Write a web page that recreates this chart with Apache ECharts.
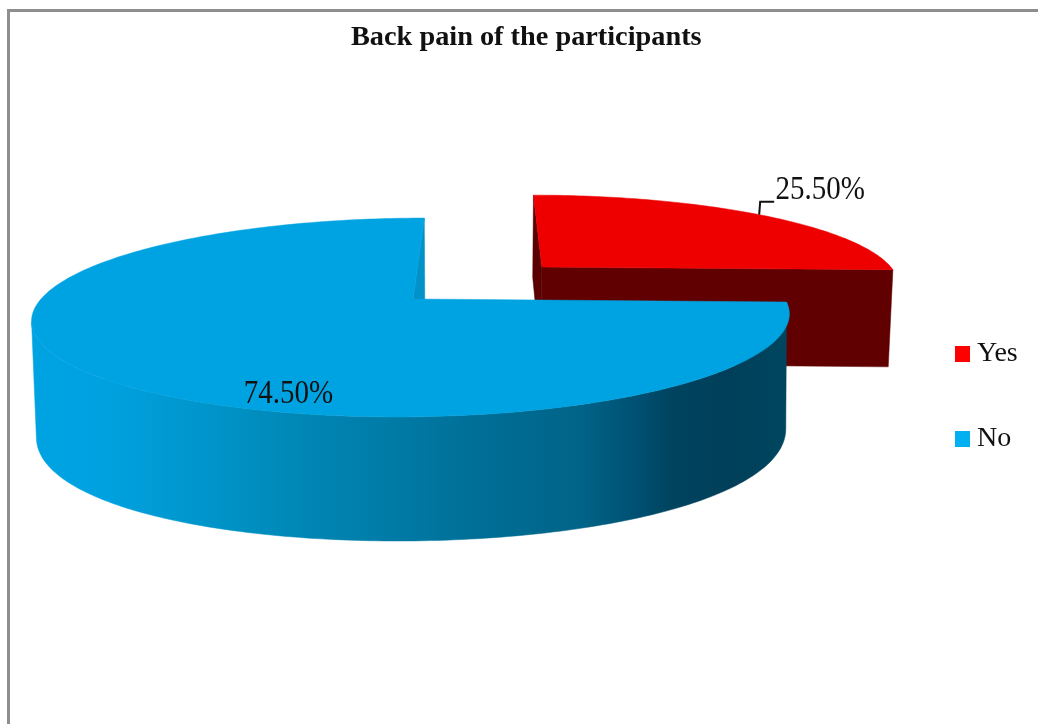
<!DOCTYPE html>
<html>
<head>
<meta charset="utf-8">
<style>html,body{margin:0;padding:0;background:#fff}#chart{width:1038px;height:724px}</style>
<script src="https://cdn.jsdelivr.net/npm/echarts@6/dist/echarts.min.js"></script>
</head>
<body>
<div id="chart"></div>
<script>
const titleText = 'Back pain of the participants';
const categories = ['Yes', 'No'];
const values = [25.5, 74.5];
const topColors = ['#EE0000', '#00A3E2'];
const legendColors = ['#FF0000', '#00B0F0'];

const FONT = '"Liberation Serif", "Times New Roman", serif';
const total = values.reduce((a, b) => a + b, 0);
const RAD = Math.PI / 180;
const view = { xv: 485, yh: -217, H: 516, W: 372, k: 0.186, xc: 470, taper: 0.011 };
const centerYes = { u: 0.163, v: 0.355, depth: 103, bulge: 0 };
const centerNo = { u: -0.1935, v: 0, depth: 101, bulge: 0.11 };

function project(u, v, drop) {
  const w = 1 + view.k * v;
  let x = view.xv + view.W * u / w;
  let y = view.yh + view.H / w;
  if (drop) { x += (view.xc - x) * view.taper; y += drop / w; }
  return [x, y];
}
function apexPoint(c, low) { return project(c.u, c.v, low ? c.depth : 0); }
function rimPoint(c, deg, low) {
  const s = Math.sin(deg * RAD);
  return project(c.u + s, c.v + Math.cos(deg * RAD), low ? c.depth * (1 + c.bulge * s * s) : 0);
}
function rim(c, a0, a1, low) {
  const pts = [], n = Math.max(2, Math.round(Math.abs(a1 - a0)));
  for (let i = 0; i <= n; i++) pts.push(rimPoint(c, a0 + (a1 - a0) * i / n, low));
  return pts;
}
function poly(points, fill) {
  return { type: 'polygon', shape: { points }, style: { fill, stroke: fill, lineWidth: 0.5 } };
}
function pctText(i) { return values[i].toFixed(2) + '%'; }
function labelEl(text, x, y) {
  return { type: 'text', x, y, scaleY: 1.14,
    style: { text, x: 0, y: 0, fill: '#111', font: '29px ' + FONT, align: 'center', verticalAlign: 'middle' } };
}

const sideBlue = new echarts.graphic.LinearGradient(33, 0, 789, 0, [
  { offset: 0, color: '#00A3E2' }, { offset: 0.1, color: '#00A1DF' },
  { offset: 0.22, color: '#0096CC' }, { offset: 0.353, color: '#0087B5' },
  { offset: 0.485, color: '#007AA5' }, { offset: 0.591, color: '#006E96' },
  { offset: 0.724, color: '#006488' }, { offset: 0.803, color: '#004F70' },
  { offset: 0.843, color: '#00445F' }, { offset: 0.922, color: '#003F5A' },
  { offset: 1, color: '#00465F' }
], true);

function renderYes() {
  const c = centerYes;
  const a1 = values[0] / total * 360, mid = a1 / 2;
  const apex = apexPoint(c, false), apexLow = apexPoint(c, true);
  const p0 = rimPoint(c, 0, false), p0Low = rimPoint(c, 0, true);
  const p1 = rimPoint(c, a1, false), p1Low = rimPoint(c, a1, true);
  const m = rimPoint(c, mid, false);
  return { type: 'group', children: [
    poly([apex, p0, p0Low, apexLow], '#5A0000'),
    poly([apex, p1, p1Low, apexLow], '#600000'),
    poly([apex].concat(rim(c, 0, a1, false)), topColors[0]),
    { type: 'polyline', shape: { points: [m, [m[0] + 1, m[1] - 13], [m[0] + 15, m[1] - 13]] },
      style: { stroke: '#111', lineWidth: 2, fill: 'none' } },
    labelEl(pctText(0), m[0] + 61, m[1] - 24)
  ] };
}
function renderNo() {
  const c = centerNo;
  const a0 = values[0] / total * 360, a1 = 360, mid = (a0 + a1) / 2;
  const apex = apexPoint(c, false), apexLow = apexPoint(c, true);
  const p0 = rimPoint(c, a1, false), p0Low = rimPoint(c, a1, true);
  const m = rimPoint(c, mid, false);
  // outer wall: from the slice edge round the front to the leftmost rim point,
  // with the bottom rim starting at its own rightmost point so the silhouette stays straight
  let aLeft = a0, minX = Infinity, aRight = a0, maxX = -Infinity;
  for (let a = a0; a <= a1; a++) {
    const x = rimPoint(c, a, false)[0];
    if (x < minX) { minX = x; aLeft = a; }
    const xLow = rimPoint(c, a, true)[0];
    if (xLow > maxX) { maxX = xLow; aRight = a; }
  }
  const outer = rim(c, a0, aLeft, false).concat(rim(c, aLeft, aRight, true));
  return { type: 'group', children: [
    poly(outer, sideBlue),
    poly([apex, p0, p0Low, apexLow], '#0092C8'),
    poly([apex].concat(rim(c, a0, a1, false)), topColors[1]),
    labelEl(pctText(1), m[0] + 193, m[1] + 19)
  ] };
}

const chart = echarts.init(document.getElementById('chart'), null, { renderer: 'canvas' });
chart.setOption({
  animation: false,
  backgroundColor: '#fff',
  title: { text: titleText, left: 346, top: 19, textStyle: { fontFamily: FONT, fontWeight: 'bold', fontSize: 28.3, color: '#111' } },
  legend: {
    orient: 'vertical', left: 955, top: 340, padding: 0, itemWidth: 15, itemHeight: 16, itemGap: 57, icon: 'rect',
    data: categories, textStyle: { fontFamily: FONT, fontSize: 28, color: '#111', padding: [0, 0, 0, 2] }
  },
  graphic: [{ type: 'rect', z: 0, shape: { x: 8.5, y: 10.5, width: 1100, height: 800 },
    style: { fill: 'none', stroke: '#8E8E8E', lineWidth: 3 } }],
  series: [
    { type: 'custom', name: categories[0], coordinateSystem: 'none', z: 2, data: [values[0]], itemStyle: { color: legendColors[0] }, renderItem: renderYes, silent: true },
    { type: 'custom', name: categories[1], coordinateSystem: 'none', z: 3, data: [values[1]], itemStyle: { color: legendColors[1] }, renderItem: renderNo, silent: true }
  ]
});
</script>
</body>
</html>
